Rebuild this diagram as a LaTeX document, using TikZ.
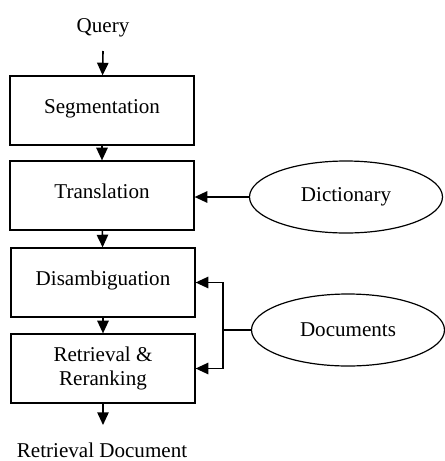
\documentclass[tikz,border=0pt]{standalone}
\usepackage{fontspec}
\setmainfont{Liberation Serif}
\usetikzlibrary{arrows.meta,shapes.geometric}

\begin{document}
\begin{tikzpicture}[x=0.75pt,y=0.75pt,yscale=-1,xscale=1,
  font=\fontsize{15.8}{18}\selectfont,
  stage/.style={draw,line width=0.9pt,minimum width=138pt,minimum height=51.75pt,align=center,inner sep=0pt},
  oneline/.style={text height=11pt,text depth=6.6pt},
  source/.style={draw,ellipse,line width=0.9pt,minimum width=144.75pt,minimum height=54pt,inner sep=0pt},
  flow/.style={line width=1.2pt,-{Triangle[length=9.5pt,width=8.5pt]}}]
\useasboundingbox (0,0) rectangle (444,461);

% Processing stages
\node[anchor=base] (query) at (103,32) {Query};
\coordinate (qin) at (103,51);
\node[stage,oneline] (seg) at (102,110.5) {Segmentation};
\node[stage,oneline] (trans) at (102,195.5) {Translation};
\node[stage,oneline] (disamb) at (103,282.5) {Disambiguation};
\node[stage] (retr) at (103,368.5) {Retrieval \&\\Reranking};
\coordinate (rout) at (103,425);
\node[anchor=base] (result) at (102,457) {Retrieval Document};

% Resources
\node[source] (dict) at (346,197) {Dictionary};
\node[source] (docs) at (348,330) {Documents};
\coordinate (fork) at (223,330);

% Main flow
\draw[flow] (qin) -- (seg);
\draw[flow] (seg) -- (trans);
\draw[flow] (trans) -- (disamb);
\draw[flow] (disamb) -- (retr);
\draw[flow] (retr) -- (rout);

% Resource links
\draw[flow] (dict.west) -- (dict.west -| trans.east);
\draw[line width=1.2pt] (docs.west) -- (fork);
\draw[flow] (fork) |- (disamb.east);
\draw[flow] (fork) |- (retr.east);

\end{tikzpicture}
\end{document}
